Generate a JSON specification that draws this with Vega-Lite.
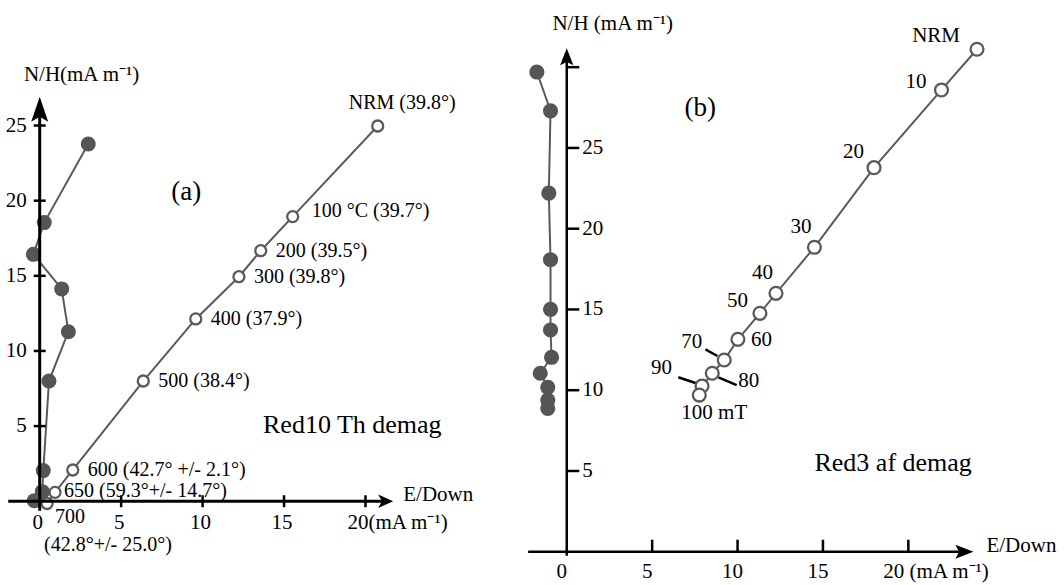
{
  "$schema": "https://vega.github.io/schema/vega-lite/v6.json",
  "background": "white",
  "padding": 5,
  "spacing": 20,
  "config": {
    "view": {"stroke": null},
    "text": {"font": "Liberation Serif", "fontSize": 20, "color": "black", "baseline": "middle"}
  },
  "datasets": {
    "panelA": [
      {"proj": "open", "ord": 0, "step": "NRM", "x": 20.75, "y": 24.97, "lab": "NRM (39.8°)"},
      {"proj": "open", "ord": 1, "step": "100", "x": 15.53, "y": 18.94, "lab": "100 °C  (39.7°)"},
      {"proj": "open", "ord": 2, "step": "200", "x": 13.57, "y": 16.67, "lab": "200 (39.5°)"},
      {"proj": "open", "ord": 3, "step": "300", "x": 12.23, "y": 14.94, "lab": "300 (39.8°)"},
      {"proj": "open", "ord": 4, "step": "400", "x": 9.58, "y": 12.13, "lab": "400 (37.9°)"},
      {"proj": "open", "ord": 5, "step": "500", "x": 6.36, "y": 8.0, "lab": "500 (38.4°)"},
      {"proj": "open", "ord": 6, "step": "600", "x": 2.03, "y": 2.08, "lab": "600 (42.7° +/- 2.1°)"},
      {"proj": "open", "ord": 7, "step": "650", "x": 0.94, "y": 0.59, "lab": "650 (59.3°+/- 14.7°)"},
      {"proj": "open", "ord": 8, "step": "700", "x": 0.45, "y": -0.15, "lab": "700", "lab2": "(42.8°+/- 25.0°)"},
      {"proj": "filled", "ord": 0, "step": "NRM", "x": 2.98, "y": 23.77},
      {"proj": "filled", "ord": 1, "step": "100", "x": 0.28, "y": 18.54},
      {"proj": "filled", "ord": 2, "step": "200", "x": -0.39, "y": 16.43},
      {"proj": "filled", "ord": 3, "step": "300", "x": 1.35, "y": 14.13},
      {"proj": "filled", "ord": 4, "step": "400", "x": 1.76, "y": 11.28},
      {"proj": "filled", "ord": 5, "step": "500", "x": 0.57, "y": 8.0},
      {"proj": "filled", "ord": 6, "step": "600", "x": 0.22, "y": 2.04},
      {"proj": "filled", "ord": 7, "step": "650", "x": 0.16, "y": 0.64},
      {"proj": "filled", "ord": 8, "step": "700", "x": -0.33, "y": 0.04}
    ],
    "panelB": [
      {"proj": "open", "ord": 0, "step": "NRM", "x": 24.02, "y": 31.11, "lab": "NRM"},
      {"proj": "open", "ord": 1, "step": "10", "x": 21.94, "y": 28.59, "lab": "10"},
      {"proj": "open", "ord": 2, "step": "20", "x": 17.99, "y": 23.78, "lab": "20"},
      {"proj": "open", "ord": 3, "step": "30", "x": 14.5, "y": 18.85, "lab": "30"},
      {"proj": "open", "ord": 4, "step": "40", "x": 12.25, "y": 16.0, "lab": "40"},
      {"proj": "open", "ord": 5, "step": "50", "x": 11.31, "y": 14.76, "lab": "50"},
      {"proj": "open", "ord": 6, "step": "60", "x": 10.02, "y": 13.15, "lab": "60"},
      {"proj": "open", "ord": 7, "step": "70", "x": 9.22, "y": 11.87, "lab": "70"},
      {"proj": "open", "ord": 8, "step": "80", "x": 8.52, "y": 11.05, "lab": "80"},
      {"proj": "open", "ord": 9, "step": "90", "x": 7.92, "y": 10.26, "lab": "90"},
      {"proj": "open", "ord": 10, "step": "100", "x": 7.76, "y": 9.7, "lab": "100 mT"},
      {"proj": "filled", "ord": 0, "step": "NRM", "x": -1.75, "y": 29.7},
      {"proj": "filled", "ord": 1, "step": "10", "x": -0.95, "y": 27.3},
      {"proj": "filled", "ord": 2, "step": "20", "x": -1.05, "y": 22.2},
      {"proj": "filled", "ord": 3, "step": "30", "x": -0.95, "y": 18.08},
      {"proj": "filled", "ord": 4, "step": "40", "x": -0.95, "y": 15.01},
      {"proj": "filled", "ord": 5, "step": "50", "x": -0.95, "y": 13.73},
      {"proj": "filled", "ord": 6, "step": "60", "x": -0.89, "y": 12.04},
      {"proj": "filled", "ord": 7, "step": "70", "x": -1.55, "y": 11.05},
      {"proj": "filled", "ord": 8, "step": "80", "x": -1.11, "y": 10.18},
      {"proj": "filled", "ord": 9, "step": "90", "x": -1.11, "y": 9.39},
      {"proj": "filled", "ord": 10, "step": "100", "x": -1.11, "y": 8.88}
    ],
    "leadersB": [
      {"step": "70", "x": 8.12, "y": 12.53, "x2": 8.82, "y2": 12.12},
      {"step": "80", "x": 8.88, "y": 10.8, "x2": 9.95, "y2": 10.32},
      {"step": "90", "x": 6.53, "y": 10.8, "x2": 7.58, "y2": 10.43}
    ],
    "ticks": [{"v": 0}, {"v": 5}, {"v": 10}, {"v": 15}, {"v": 20}, {"v": 25}, {"v": 30}],
    "one": [{}]
  },
  "hconcat": [
    {
      "width": 490,
      "height": 575,
      "layer": [
        {
          "data": {"name": "panelA"},
          "mark": {"type": "line", "color": "#5a5a5a", "strokeWidth": 2},
          "encoding": {
            "x": {"field": "x", "type": "quantitative", "scale": {"domain": [-2.13, 27.95], "nice": false, "zero": false}, "axis": null},
            "y": {"field": "y", "type": "quantitative", "scale": {"domain": [-5.24, 33.02], "nice": false, "zero": false}, "axis": null},
            "detail": {"field": "proj"},
            "order": {"field": "ord"}
          }
        },
        {
          "data": {"name": "panelA"},
          "transform": [{"filter": {"field": "proj", "equal": "open"}}],
          "mark": {"type": "point", "shape": "circle", "filled": true, "fill": "white", "stroke": "#5a5a5a", "strokeWidth": 2.3, "size": 121, "opacity": 1},
          "encoding": {
            "x": {"field": "x", "type": "quantitative", "scale": {"domain": [-2.13, 27.95], "nice": false, "zero": false}, "axis": null},
            "y": {"field": "y", "type": "quantitative", "scale": {"domain": [-5.24, 33.02], "nice": false, "zero": false}, "axis": null}
          }
        },
        {
          "data": {"name": "panelA"},
          "transform": [{"filter": {"field": "proj", "equal": "filled"}}],
          "mark": {"type": "point", "shape": "circle", "filled": true, "color": "#555555", "strokeWidth": 0, "size": 225, "opacity": 1},
          "encoding": {
            "x": {"field": "x", "type": "quantitative", "scale": {"domain": [-2.13, 27.95], "nice": false, "zero": false}, "axis": null},
            "y": {"field": "y", "type": "quantitative", "scale": {"domain": [-5.24, 33.02], "nice": false, "zero": false}, "axis": null}
          }
        },
        {
          "data": {"name": "one"},
          "mark": {"type": "rule", "color": "black", "strokeWidth": 3},
          "encoding": {
            "x": {"datum": -1.93, "type": "quantitative", "scale": {"domain": [-2.13, 27.95], "nice": false, "zero": false}, "axis": null},
            "x2": {"datum": 21.1},
            "y": {"datum": 0, "type": "quantitative", "scale": {"domain": [-5.24, 33.02], "nice": false, "zero": false}, "axis": null}
          }
        },
        {
          "data": {"name": "one"},
          "mark": {"type": "rule", "color": "black", "strokeWidth": 3},
          "encoding": {
            "x": {"datum": 0, "type": "quantitative", "scale": {"domain": [-2.13, 27.95], "nice": false, "zero": false}, "axis": null},
            "y": {"datum": -0.63, "type": "quantitative", "scale": {"domain": [-5.24, 33.02], "nice": false, "zero": false}, "axis": null},
            "y2": {"datum": 26.2}
          }
        },
        {
          "data": {"name": "one"},
          "mark": {"type": "point", "shape": "M0,0L-1,-0.45L-0.75,0L-1,0.45Z", "filled": true, "color": "black", "strokeWidth": 0, "size": 900, "opacity": 1},
          "encoding": {
            "x": {"datum": 21.7, "type": "quantitative", "scale": {"domain": [-2.13, 27.95], "nice": false, "zero": false}, "axis": null},
            "y": {"datum": 0, "type": "quantitative", "scale": {"domain": [-5.24, 33.02], "nice": false, "zero": false}, "axis": null}
          }
        },
        {
          "data": {"name": "one"},
          "mark": {"type": "point", "shape": "M0,0L0.34,1L0,0.8L-0.34,1Z", "filled": true, "color": "black", "strokeWidth": 0, "size": 2500, "opacity": 1},
          "encoding": {
            "x": {"datum": 0, "type": "quantitative", "scale": {"domain": [-2.13, 27.95], "nice": false, "zero": false}, "axis": null},
            "y": {"datum": 26.92, "type": "quantitative", "scale": {"domain": [-5.24, 33.02], "nice": false, "zero": false}, "axis": null}
          }
        },
        {
          "data": {"name": "ticks"},
          "transform": [{"filter": "datum.v >= 5 && datum.v <= 20"}],
          "mark": {"type": "tick", "orient": "vertical", "color": "black", "size": 12, "thickness": 2.5, "opacity": 1},
          "encoding": {
            "x": {"field": "v", "type": "quantitative", "scale": {"domain": [-2.13, 27.95], "nice": false, "zero": false}, "axis": null},
            "y": {"datum": 0, "type": "quantitative", "scale": {"domain": [-5.24, 33.02], "nice": false, "zero": false}, "axis": null}
          }
        },
        {
          "data": {"name": "ticks"},
          "transform": [{"filter": "datum.v >= 5 && datum.v <= 25"}],
          "mark": {"type": "tick", "orient": "horizontal", "color": "black", "size": 12, "thickness": 2.5, "opacity": 1},
          "encoding": {
            "x": {"datum": 0, "type": "quantitative", "scale": {"domain": [-2.13, 27.95], "nice": false, "zero": false}, "axis": null},
            "y": {"field": "v", "type": "quantitative", "scale": {"domain": [-5.24, 33.02], "nice": false, "zero": false}, "axis": null}
          }
        },
        {
          "data": {"name": "ticks"},
          "transform": [{"filter": "datum.v <= 15"}],
          "mark": {"type": "text", "align": "center", "dx": -2, "dy": 22, "fontSize": 21},
          "encoding": {
            "x": {"field": "v", "type": "quantitative", "scale": {"domain": [-2.13, 27.95], "nice": false, "zero": false}, "axis": null},
            "y": {"datum": 0, "type": "quantitative", "scale": {"domain": [-5.24, 33.02], "nice": false, "zero": false}, "axis": null},
            "text": {"field": "v", "type": "quantitative", "format": "d"}
          }
        },
        {
          "data": {"name": "one"},
          "mark": {"type": "text", "align": "left", "dx": -18, "dy": 22, "fontSize": 21, "text": "20(mA m⁻¹)"},
          "encoding": {
            "x": {"datum": 20, "type": "quantitative", "scale": {"domain": [-2.13, 27.95], "nice": false, "zero": false}, "axis": null},
            "y": {"datum": 0, "type": "quantitative", "scale": {"domain": [-5.24, 33.02], "nice": false, "zero": false}, "axis": null}
          }
        },
        {
          "data": {"name": "ticks"},
          "transform": [{"filter": "datum.v >= 5 && datum.v <= 25"}],
          "mark": {"type": "text", "align": "right", "dx": -13, "fontSize": 21},
          "encoding": {
            "x": {"datum": 0, "type": "quantitative", "scale": {"domain": [-2.13, 27.95], "nice": false, "zero": false}, "axis": null},
            "y": {"field": "v", "type": "quantitative", "scale": {"domain": [-5.24, 33.02], "nice": false, "zero": false}, "axis": null},
            "text": {"field": "v", "type": "quantitative", "format": "d"}
          }
        },
        {
          "data": {"name": "panelA"},
          "transform": [{"filter": {"and": [{"field": "proj", "equal": "open"}, {"field": "step", "oneOf": ["NRM"]}]}}],
          "mark": {"type": "text", "align": "left", "dx": -29, "dy": -23},
          "encoding": {
            "x": {"field": "x", "type": "quantitative", "scale": {"domain": [-2.13, 27.95], "nice": false, "zero": false}, "axis": null},
            "y": {"field": "y", "type": "quantitative", "scale": {"domain": [-5.24, 33.02], "nice": false, "zero": false}, "axis": null},
            "text": {"field": "lab"}
          }
        },
        {
          "data": {"name": "panelA"},
          "transform": [{"filter": {"and": [{"field": "proj", "equal": "open"}, {"field": "step", "oneOf": ["100"]}]}}],
          "mark": {"type": "text", "align": "left", "dx": 19, "dy": -6},
          "encoding": {
            "x": {"field": "x", "type": "quantitative", "scale": {"domain": [-2.13, 27.95], "nice": false, "zero": false}, "axis": null},
            "y": {"field": "y", "type": "quantitative", "scale": {"domain": [-5.24, 33.02], "nice": false, "zero": false}, "axis": null},
            "text": {"field": "lab"}
          }
        },
        {
          "data": {"name": "panelA"},
          "transform": [{"filter": {"and": [{"field": "proj", "equal": "open"}, {"field": "step", "oneOf": ["200", "300", "400", "500", "600"]}]}}],
          "mark": {"type": "text", "align": "left", "dx": 15, "dy": 0},
          "encoding": {
            "x": {"field": "x", "type": "quantitative", "scale": {"domain": [-2.13, 27.95], "nice": false, "zero": false}, "axis": null},
            "y": {"field": "y", "type": "quantitative", "scale": {"domain": [-5.24, 33.02], "nice": false, "zero": false}, "axis": null},
            "text": {"field": "lab"}
          }
        },
        {
          "data": {"name": "panelA"},
          "transform": [{"filter": {"and": [{"field": "proj", "equal": "open"}, {"field": "step", "oneOf": ["650"]}]}}],
          "mark": {"type": "text", "align": "left", "dx": 9, "dy": -1},
          "encoding": {
            "x": {"field": "x", "type": "quantitative", "scale": {"domain": [-2.13, 27.95], "nice": false, "zero": false}, "axis": null},
            "y": {"field": "y", "type": "quantitative", "scale": {"domain": [-5.24, 33.02], "nice": false, "zero": false}, "axis": null},
            "text": {"field": "lab"}
          }
        },
        {
          "data": {"name": "panelA"},
          "transform": [{"filter": {"and": [{"field": "proj", "equal": "open"}, {"field": "step", "oneOf": ["700"]}]}}],
          "mark": {"type": "text", "align": "left", "dx": 8, "dy": 13},
          "encoding": {
            "x": {"field": "x", "type": "quantitative", "scale": {"domain": [-2.13, 27.95], "nice": false, "zero": false}, "axis": null},
            "y": {"field": "y", "type": "quantitative", "scale": {"domain": [-5.24, 33.02], "nice": false, "zero": false}, "axis": null},
            "text": {"field": "lab"}
          }
        },
        {
          "data": {"name": "panelA"},
          "transform": [{"filter": {"and": [{"field": "proj", "equal": "open"}, {"field": "step", "oneOf": ["700"]}]}}],
          "mark": {"type": "text", "align": "left", "dx": -3, "dy": 41},
          "encoding": {
            "x": {"field": "x", "type": "quantitative", "scale": {"domain": [-2.13, 27.95], "nice": false, "zero": false}, "axis": null},
            "y": {"field": "y", "type": "quantitative", "scale": {"domain": [-5.24, 33.02], "nice": false, "zero": false}, "axis": null},
            "text": {"field": "lab2"}
          }
        },
        {
          "data": {"name": "one"},
          "mark": {"type": "text", "align": "center", "fontSize": 27, "text": "(a)"},
          "encoding": {
            "x": {"datum": 9.0, "type": "quantitative", "scale": {"domain": [-2.13, 27.95], "nice": false, "zero": false}, "axis": null},
            "y": {"datum": 20.6, "type": "quantitative", "scale": {"domain": [-5.24, 33.02], "nice": false, "zero": false}, "axis": null}
          }
        },
        {
          "data": {"name": "one"},
          "mark": {"type": "text", "align": "center", "fontSize": 26, "text": "Red10 Th demag"},
          "encoding": {
            "x": {"datum": 19.19, "type": "quantitative", "scale": {"domain": [-2.13, 27.95], "nice": false, "zero": false}, "axis": null},
            "y": {"datum": 5.08, "type": "quantitative", "scale": {"domain": [-5.24, 33.02], "nice": false, "zero": false}, "axis": null}
          }
        },
        {
          "data": {"name": "one"},
          "mark": {"type": "text", "align": "left", "fontSize": 21, "text": "E/Down"},
          "encoding": {
            "x": {"datum": 22.32, "type": "quantitative", "scale": {"domain": [-2.13, 27.95], "nice": false, "zero": false}, "axis": null},
            "y": {"datum": 0.42, "type": "quantitative", "scale": {"domain": [-5.24, 33.02], "nice": false, "zero": false}, "axis": null}
          }
        },
        {
          "data": {"name": "one"},
          "mark": {"type": "text", "align": "center", "fontSize": 21, "text": "N/H(mA m⁻¹)"},
          "encoding": {
            "x": {"datum": 2.57, "type": "quantitative", "scale": {"domain": [-2.13, 27.95], "nice": false, "zero": false}, "axis": null},
            "y": {"datum": 28.36, "type": "quantitative", "scale": {"domain": [-5.24, 33.02], "nice": false, "zero": false}, "axis": null}
          }
        }
      ]
    },
    {
      "width": 544,
      "height": 575,
      "layer": [
        {
          "data": {"name": "panelB"},
          "mark": {"type": "line", "color": "#5a5a5a", "strokeWidth": 2},
          "encoding": {
            "x": {"field": "x", "type": "quantitative", "scale": {"domain": [-3.03, 28.82], "nice": false, "zero": false}, "axis": null},
            "y": {"field": "y", "type": "quantitative", "scale": {"domain": [-1.75, 33.85], "nice": false, "zero": false}, "axis": null},
            "detail": {"field": "proj"},
            "order": {"field": "ord"}
          }
        },
        {
          "data": {"name": "leadersB"},
          "mark": {"type": "rule", "color": "black", "strokeWidth": 2.5},
          "encoding": {
            "x": {"field": "x", "type": "quantitative", "scale": {"domain": [-3.03, 28.82], "nice": false, "zero": false}, "axis": null},
            "y": {"field": "y", "type": "quantitative", "scale": {"domain": [-1.75, 33.85], "nice": false, "zero": false}, "axis": null},
            "x2": {"field": "x2"},
            "y2": {"field": "y2"}
          }
        },
        {
          "data": {"name": "panelB"},
          "transform": [{"filter": {"field": "proj", "equal": "open"}}],
          "mark": {"type": "point", "shape": "circle", "filled": true, "fill": "white", "stroke": "#5a5a5a", "strokeWidth": 2.3, "size": 165, "opacity": 1},
          "encoding": {
            "x": {"field": "x", "type": "quantitative", "scale": {"domain": [-3.03, 28.82], "nice": false, "zero": false}, "axis": null},
            "y": {"field": "y", "type": "quantitative", "scale": {"domain": [-1.75, 33.85], "nice": false, "zero": false}, "axis": null}
          }
        },
        {
          "data": {"name": "panelB"},
          "transform": [{"filter": {"field": "proj", "equal": "filled"}}],
          "mark": {"type": "point", "shape": "circle", "filled": true, "color": "#555555", "strokeWidth": 0, "size": 230, "opacity": 1},
          "encoding": {
            "x": {"field": "x", "type": "quantitative", "scale": {"domain": [-3.03, 28.82], "nice": false, "zero": false}, "axis": null},
            "y": {"field": "y", "type": "quantitative", "scale": {"domain": [-1.75, 33.85], "nice": false, "zero": false}, "axis": null}
          }
        },
        {
          "data": {"name": "one"},
          "mark": {"type": "rule", "color": "black", "strokeWidth": 2.5},
          "encoding": {
            "x": {"datum": -2.26, "type": "quantitative", "scale": {"domain": [-3.03, 28.82], "nice": false, "zero": false}, "axis": null},
            "x2": {"datum": 23.3},
            "y": {"datum": 0, "type": "quantitative", "scale": {"domain": [-1.75, 33.85], "nice": false, "zero": false}, "axis": null}
          }
        },
        {
          "data": {"name": "one"},
          "mark": {"type": "rule", "color": "black", "strokeWidth": 2.5},
          "encoding": {
            "x": {"datum": 0, "type": "quantitative", "scale": {"domain": [-3.03, 28.82], "nice": false, "zero": false}, "axis": null},
            "y": {"datum": -0.25, "type": "quantitative", "scale": {"domain": [-1.75, 33.85], "nice": false, "zero": false}, "axis": null},
            "y2": {"datum": 30.7}
          }
        },
        {
          "data": {"name": "one"},
          "mark": {"type": "point", "shape": "M0,0L-1,-0.39L-0.8,0L-1,0.39Z", "filled": true, "color": "black", "strokeWidth": 0, "size": 1296, "opacity": 1},
          "encoding": {
            "x": {"datum": 23.81, "type": "quantitative", "scale": {"domain": [-3.03, 28.82], "nice": false, "zero": false}, "axis": null},
            "y": {"datum": 0, "type": "quantitative", "scale": {"domain": [-1.75, 33.85], "nice": false, "zero": false}, "axis": null}
          }
        },
        {
          "data": {"name": "one"},
          "mark": {"type": "point", "shape": "M0,0L0.39,1L0,0.8L-0.39,1Z", "filled": true, "color": "black", "strokeWidth": 0, "size": 1156, "opacity": 1},
          "encoding": {
            "x": {"datum": 0, "type": "quantitative", "scale": {"domain": [-3.03, 28.82], "nice": false, "zero": false}, "axis": null},
            "y": {"datum": 31.17, "type": "quantitative", "scale": {"domain": [-1.75, 33.85], "nice": false, "zero": false}, "axis": null}
          }
        },
        {
          "data": {"name": "ticks"},
          "transform": [{"filter": "datum.v >= 5 && datum.v <= 20"}],
          "mark": {"type": "tick", "orient": "vertical", "color": "black", "size": 12, "thickness": 2.5, "yOffset": -6, "opacity": 1},
          "encoding": {
            "x": {"field": "v", "type": "quantitative", "scale": {"domain": [-3.03, 28.82], "nice": false, "zero": false}, "axis": null},
            "y": {"datum": 0, "type": "quantitative", "scale": {"domain": [-1.75, 33.85], "nice": false, "zero": false}, "axis": null}
          }
        },
        {
          "data": {"name": "ticks"},
          "transform": [{"filter": "datum.v >= 5 && datum.v <= 30"}],
          "mark": {"type": "tick", "orient": "horizontal", "color": "black", "size": 12.5, "thickness": 2.5, "xOffset": 6.3, "opacity": 1},
          "encoding": {
            "x": {"datum": 0, "type": "quantitative", "scale": {"domain": [-3.03, 28.82], "nice": false, "zero": false}, "axis": null},
            "y": {"field": "v", "type": "quantitative", "scale": {"domain": [-1.75, 33.85], "nice": false, "zero": false}, "axis": null}
          }
        },
        {
          "data": {"name": "ticks"},
          "transform": [{"filter": "datum.v <= 15"}],
          "mark": {"type": "text", "align": "center", "dx": -5, "dy": 20, "fontSize": 21},
          "encoding": {
            "x": {"field": "v", "type": "quantitative", "scale": {"domain": [-3.03, 28.82], "nice": false, "zero": false}, "axis": null},
            "y": {"datum": 0, "type": "quantitative", "scale": {"domain": [-1.75, 33.85], "nice": false, "zero": false}, "axis": null},
            "text": {"field": "v", "type": "quantitative", "format": "d"}
          }
        },
        {
          "data": {"name": "one"},
          "mark": {"type": "text", "align": "left", "dx": -25, "dy": 20, "fontSize": 21, "text": "20 (mA m⁻¹)"},
          "encoding": {
            "x": {"datum": 20, "type": "quantitative", "scale": {"domain": [-3.03, 28.82], "nice": false, "zero": false}, "axis": null},
            "y": {"datum": 0, "type": "quantitative", "scale": {"domain": [-1.75, 33.85], "nice": false, "zero": false}, "axis": null}
          }
        },
        {
          "data": {"name": "ticks"},
          "transform": [{"filter": "datum.v >= 5 && datum.v <= 25"}],
          "mark": {"type": "text", "align": "left", "dx": 15.5, "fontSize": 21},
          "encoding": {
            "x": {"datum": 0, "type": "quantitative", "scale": {"domain": [-3.03, 28.82], "nice": false, "zero": false}, "axis": null},
            "y": {"field": "v", "type": "quantitative", "scale": {"domain": [-1.75, 33.85], "nice": false, "zero": false}, "axis": null},
            "text": {"field": "v", "type": "quantitative", "format": "d"}
          }
        },
        {
          "data": {"name": "panelB"},
          "transform": [{"filter": {"field": "lab", "oneOf": ["NRM"]}}],
          "mark": {"type": "text", "align": "right", "dx": -17, "dy": -13, "fontSize": 21},
          "encoding": {
            "x": {"field": "x", "type": "quantitative", "scale": {"domain": [-3.03, 28.82], "nice": false, "zero": false}, "axis": null},
            "y": {"field": "y", "type": "quantitative", "scale": {"domain": [-1.75, 33.85], "nice": false, "zero": false}, "axis": null},
            "text": {"field": "lab"}
          }
        },
        {
          "data": {"name": "panelB"},
          "transform": [{"filter": {"field": "lab", "oneOf": ["10"]}}],
          "mark": {"type": "text", "align": "right", "dx": -15, "dy": -8, "fontSize": 21},
          "encoding": {
            "x": {"field": "x", "type": "quantitative", "scale": {"domain": [-3.03, 28.82], "nice": false, "zero": false}, "axis": null},
            "y": {"field": "y", "type": "quantitative", "scale": {"domain": [-1.75, 33.85], "nice": false, "zero": false}, "axis": null},
            "text": {"field": "lab"}
          }
        },
        {
          "data": {"name": "panelB"},
          "transform": [{"filter": {"field": "lab", "oneOf": ["20"]}}],
          "mark": {"type": "text", "align": "right", "dx": -10, "dy": -16, "fontSize": 21},
          "encoding": {
            "x": {"field": "x", "type": "quantitative", "scale": {"domain": [-3.03, 28.82], "nice": false, "zero": false}, "axis": null},
            "y": {"field": "y", "type": "quantitative", "scale": {"domain": [-1.75, 33.85], "nice": false, "zero": false}, "axis": null},
            "text": {"field": "lab"}
          }
        },
        {
          "data": {"name": "panelB"},
          "transform": [{"filter": {"field": "lab", "oneOf": ["30", "40"]}}],
          "mark": {"type": "text", "align": "right", "dx": -3, "dy": -20, "fontSize": 21},
          "encoding": {
            "x": {"field": "x", "type": "quantitative", "scale": {"domain": [-3.03, 28.82], "nice": false, "zero": false}, "axis": null},
            "y": {"field": "y", "type": "quantitative", "scale": {"domain": [-1.75, 33.85], "nice": false, "zero": false}, "axis": null},
            "text": {"field": "lab"}
          }
        },
        {
          "data": {"name": "panelB"},
          "transform": [{"filter": {"field": "lab", "oneOf": ["50"]}}],
          "mark": {"type": "text", "align": "right", "dx": -12, "dy": -12, "fontSize": 21},
          "encoding": {
            "x": {"field": "x", "type": "quantitative", "scale": {"domain": [-3.03, 28.82], "nice": false, "zero": false}, "axis": null},
            "y": {"field": "y", "type": "quantitative", "scale": {"domain": [-1.75, 33.85], "nice": false, "zero": false}, "axis": null},
            "text": {"field": "lab"}
          }
        },
        {
          "data": {"name": "panelB"},
          "transform": [{"filter": {"field": "lab", "oneOf": ["60"]}}],
          "mark": {"type": "text", "align": "left", "dx": 13, "dy": 1, "fontSize": 21},
          "encoding": {
            "x": {"field": "x", "type": "quantitative", "scale": {"domain": [-3.03, 28.82], "nice": false, "zero": false}, "axis": null},
            "y": {"field": "y", "type": "quantitative", "scale": {"domain": [-1.75, 33.85], "nice": false, "zero": false}, "axis": null},
            "text": {"field": "lab"}
          }
        },
        {
          "data": {"name": "panelB"},
          "transform": [{"filter": {"field": "lab", "oneOf": ["70"]}}],
          "mark": {"type": "text", "align": "right", "dx": -22, "dy": -18, "fontSize": 21},
          "encoding": {
            "x": {"field": "x", "type": "quantitative", "scale": {"domain": [-3.03, 28.82], "nice": false, "zero": false}, "axis": null},
            "y": {"field": "y", "type": "quantitative", "scale": {"domain": [-1.75, 33.85], "nice": false, "zero": false}, "axis": null},
            "text": {"field": "lab"}
          }
        },
        {
          "data": {"name": "panelB"},
          "transform": [{"filter": {"field": "lab", "oneOf": ["80"]}}],
          "mark": {"type": "text", "align": "left", "dx": 26, "dy": 8, "fontSize": 21},
          "encoding": {
            "x": {"field": "x", "type": "quantitative", "scale": {"domain": [-3.03, 28.82], "nice": false, "zero": false}, "axis": null},
            "y": {"field": "y", "type": "quantitative", "scale": {"domain": [-1.75, 33.85], "nice": false, "zero": false}, "axis": null},
            "text": {"field": "lab"}
          }
        },
        {
          "data": {"name": "panelB"},
          "transform": [{"filter": {"field": "lab", "oneOf": ["90"]}}],
          "mark": {"type": "text", "align": "right", "dx": -30, "dy": -18, "fontSize": 21},
          "encoding": {
            "x": {"field": "x", "type": "quantitative", "scale": {"domain": [-3.03, 28.82], "nice": false, "zero": false}, "axis": null},
            "y": {"field": "y", "type": "quantitative", "scale": {"domain": [-1.75, 33.85], "nice": false, "zero": false}, "axis": null},
            "text": {"field": "lab"}
          }
        },
        {
          "data": {"name": "panelB"},
          "transform": [{"filter": {"field": "lab", "oneOf": ["100 mT"]}}],
          "mark": {"type": "text", "align": "left", "dx": -18, "dy": 18, "fontSize": 21},
          "encoding": {
            "x": {"field": "x", "type": "quantitative", "scale": {"domain": [-3.03, 28.82], "nice": false, "zero": false}, "axis": null},
            "y": {"field": "y", "type": "quantitative", "scale": {"domain": [-1.75, 33.85], "nice": false, "zero": false}, "axis": null},
            "text": {"field": "lab"}
          }
        },
        {
          "data": {"name": "one"},
          "mark": {"type": "text", "align": "center", "fontSize": 27, "text": "(b)"},
          "encoding": {
            "x": {"datum": 7.82, "type": "quantitative", "scale": {"domain": [-3.03, 28.82], "nice": false, "zero": false}, "axis": null},
            "y": {"datum": 27.46, "type": "quantitative", "scale": {"domain": [-1.75, 33.85], "nice": false, "zero": false}, "axis": null}
          }
        },
        {
          "data": {"name": "one"},
          "mark": {"type": "text", "align": "center", "fontSize": 26, "text": "Red3 af demag"},
          "encoding": {
            "x": {"datum": 19.11, "type": "quantitative", "scale": {"domain": [-3.03, 28.82], "nice": false, "zero": false}, "axis": null},
            "y": {"datum": 5.47, "type": "quantitative", "scale": {"domain": [-1.75, 33.85], "nice": false, "zero": false}, "axis": null}
          }
        },
        {
          "data": {"name": "one"},
          "mark": {"type": "text", "align": "left", "fontSize": 21, "text": "E/Down"},
          "encoding": {
            "x": {"datum": 24.57, "type": "quantitative", "scale": {"domain": [-3.03, 28.82], "nice": false, "zero": false}, "axis": null},
            "y": {"datum": 0.35, "type": "quantitative", "scale": {"domain": [-1.75, 33.85], "nice": false, "zero": false}, "axis": null}
          }
        },
        {
          "data": {"name": "one"},
          "mark": {"type": "text", "align": "center", "fontSize": 21, "text": "N/H (mA m⁻¹)"},
          "encoding": {
            "x": {"datum": 2.69, "type": "quantitative", "scale": {"domain": [-3.03, 28.82], "nice": false, "zero": false}, "axis": null},
            "y": {"datum": 32.68, "type": "quantitative", "scale": {"domain": [-1.75, 33.85], "nice": false, "zero": false}, "axis": null}
          }
        }
      ]
    }
  ]
}
